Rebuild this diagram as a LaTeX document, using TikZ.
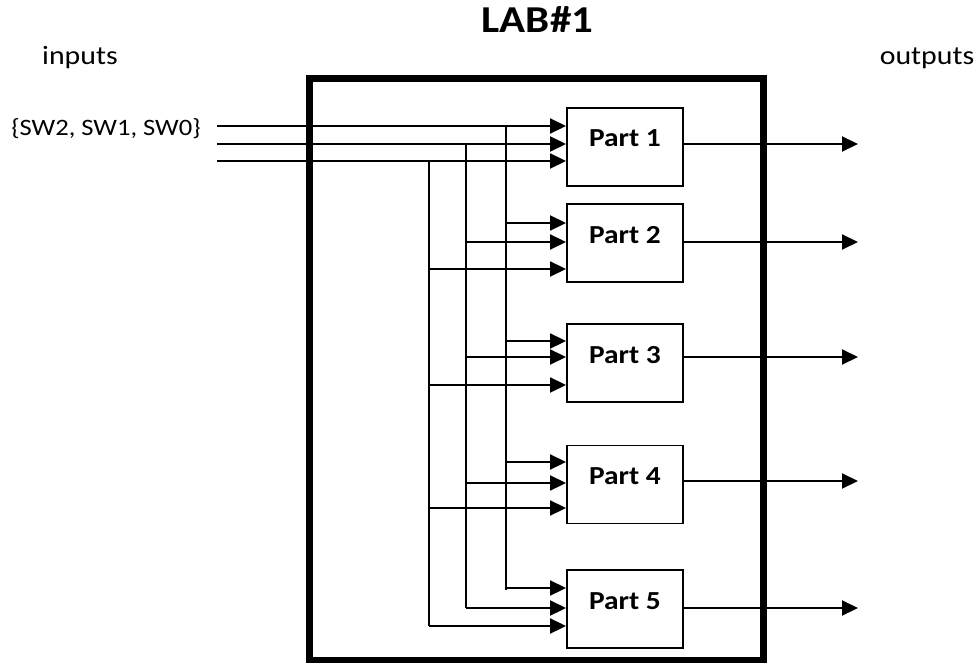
\documentclass[tikz,border=0pt]{standalone}
\usepackage{fontspec}
\setmainfont{Carlito}[FakeStretch=1.13]
\usetikzlibrary{arrows.meta}
\tikzset{
  wire/.style={line width=1.9pt},
  arr/.style={wire,-{Triangle[length=16pt,width=15pt]}},
  partbox/.style={draw,line width=1.9pt,minimum width=116pt,minimum height=78pt,inner sep=0pt},
  partlabel/.style={anchor=base,inner sep=0pt,font=\fontsize{26}{30}\selectfont\bfseries},
  lbl/.style={anchor=base,inner sep=0pt,font=\fontsize{26.4}{30}\selectfont},
  outerbox/.style={draw,line width=7pt}
}
\begin{document}
\begin{tikzpicture}[x=1pt,y=-1pt]
\useasboundingbox (0,0) rectangle (976,663);
% titles
\node[anchor=base,inner sep=0pt,font=\fontsize{38}{42}\selectfont\bfseries] (title) at (537.5,33) {LAB\#1};
\node[lbl] (lin) at (80,65) {inputs};
\node[lbl] (lout) at (927,65) {outputs};
\node[lbl,font=\fontsize{23.5}{28}\selectfont] (sw) at (106,136) {\{SW2, SW1, SW0\}};
% outer box
\draw[outerbox] (309,79) rectangle (763,660);
% part boxes
\foreach \i/\yc in {1/147,2/243,3/363,4/484.5,5/609}{
  \node[partbox] (p\i) at (625,\yc) {};
  \node[partlabel] (l\i) at (p\i.center) {Part \i};
}
% inputs
\coordinate (in1) at (217,126);
\coordinate (in2) at (217,144);
\coordinate (in3) at (217,161);
\draw[arr] (in1) -- (in1 -| p1.west);
\draw[arr] (in2) -- (in2 -| p1.west);
\draw[arr] (in3) -- (in3 -| p1.west);
% buses
\coordinate (bA) at (506,126);
\coordinate (bB) at (466,144);
\coordinate (bC) at (429,161);
\coordinate (eA) at (506,590);
\coordinate (eB) at (466,608);
\coordinate (eC) at (429,626);
\draw[wire] (bA) -- (eA);
\draw[wire] (bB) -- (eB);
\draw[wire] (bC) -- (eC);
% bus arrows
\foreach \i/\ya/\yb/\ycc in {2/223/242/269,3/341/357/385,4/462/483/508,5/588/608/626}{
  \coordinate (a\i) at (506,\ya);
  \coordinate (b\i) at (466,\yb);
  \coordinate (c\i) at (429,\ycc);
  \draw[arr] (a\i) -- (a\i -| p\i.west);
  \draw[arr] (b\i) -- (b\i -| p\i.west);
  \draw[arr] (c\i) -- (c\i -| p\i.west);
}
% outputs
\foreach \i/\yo in {1/144,2/242,3/357,4/481,5/608}{
  \coordinate (o\i) at (858,\yo);
  \draw[arr] (o\i -| p\i.east) -- (o\i);
}
\end{tikzpicture}
\end{document}
